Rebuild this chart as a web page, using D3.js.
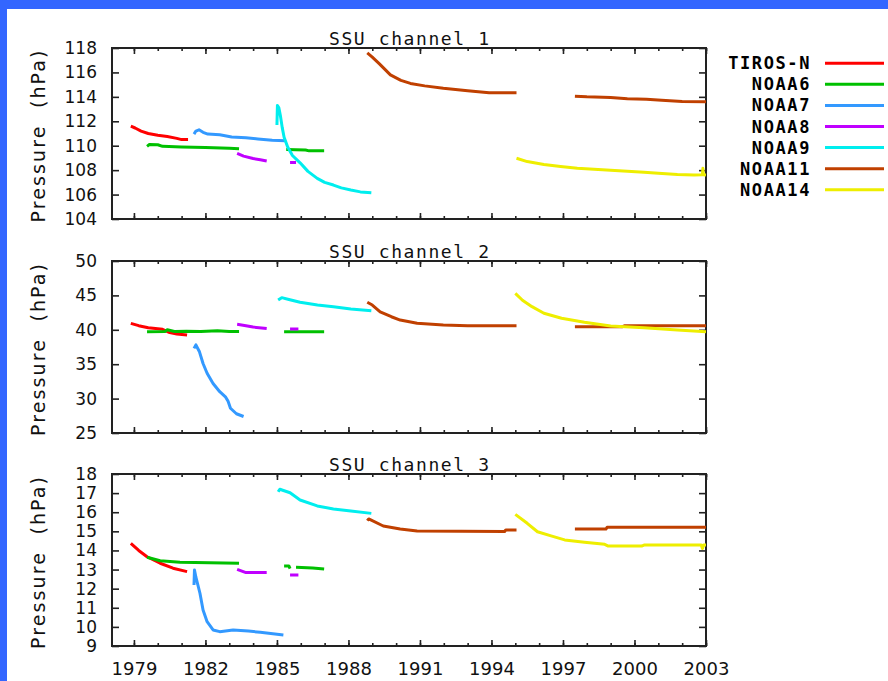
<!DOCTYPE html>
<html>
<head>
<meta charset="utf-8">
<script src="https://cdn.jsdelivr.net/npm/d3@7"></script>
<style>
  html, body { margin: 0; padding: 0; background: #fff; }
  svg { display: block; }
</style>
</head>
<body>
<svg id="chart" width="888" height="681"></svg>
<script>
// SSU weighting-function peak pressure by satellite, channels 1-3.
// Each series is a list of [year, hPa]; null breaks a line into segments.

const satellites = ["TIROS-N", "NOAA6", "NOAA7", "NOAA8", "NOAA9", "NOAA11", "NOAA14"];
const satColors  = ["#ff0000", "#00c000", "#3399ff", "#c000ff", "#00eeee", "#c04000", "#eeee00"];

const yearTicks = [1979, 1982, 1985, 1988, 1991, 1994, 1997, 2000, 2003];
const yearMinor = d3.range(1979, 2004);

// ---- channel 1 ----
const ch1Ticks = [104, 106, 108, 110, 112, 114, 116, 118];
const ch1_TIROSN = [[1978.87,111.6],[1979.05,111.45],[1979.3,111.2],[1979.6,111.0],[1980.0,110.85],[1980.4,110.75],[1980.8,110.6],[1981.0,110.5],[1981.27,110.5]];
const ch1_NOAA6  = [[1979.55,109.95],[1979.65,110.1],[1980.0,110.08],[1980.2,109.95],[1981.0,109.9],[1982.0,109.85],[1983.0,109.8],[1983.41,109.75], null,
                    [1985.39,109.7],[1986.2,109.65],[1986.35,109.58],[1986.98,109.58]];
const ch1_NOAA7  = [[1981.52,110.95],[1981.6,111.2],[1981.73,111.3],[1981.9,111.1],[1982.1,110.95],[1982.6,110.9],[1983.1,110.72],[1983.7,110.65],[1984.2,110.55],[1984.8,110.45],[1985.35,110.4]];
const ch1_NOAA8  = [[1983.33,109.37],[1983.6,109.15],[1984.0,108.95],[1984.3,108.85],[1984.57,108.75], null,
                    [1985.55,108.63],[1985.8,108.63]];
const ch1_NOAA9  = [[1985.0,111.7],[1985.02,113.3],[1985.08,113.1],[1985.15,112.4],[1985.22,111.5],[1985.3,110.7],[1985.45,109.9],[1985.65,109.2],[1985.97,108.6],
                    [1986.3,107.9],[1986.69,107.33],[1987.0,107.0],[1987.37,106.78],[1987.7,106.55],[1988.1,106.37],[1988.5,106.22],[1988.96,106.15]];
const ch1_NOAA11 = [[1988.79,117.6],[1989.0,117.25],[1989.3,116.7],[1989.76,115.8],[1990.2,115.35],[1990.6,115.1],[1991.2,114.9],[1991.98,114.7],[1993.0,114.5],[1993.9,114.33],[1995.05,114.33], null,
                    [1997.5,114.05],[1998.0,114.0],[1999.0,113.95],[1999.7,113.85],[2000.5,113.8],[2001.14,113.72],[2002.0,113.62],[2003.0,113.6]];
const ch1_NOAA14 = [[1995.05,108.97],[1995.5,108.7],[1996.2,108.47],[1996.9,108.3],[1997.6,108.15],[1999.0,108.0],[2000.4,107.82],[2001.0,107.75],[2001.8,107.65],
                    [2002.5,107.6],[2002.85,107.62],[2002.87,108.15],[2002.89,107.62],[2003.0,107.6]];

// ---- channel 2 ----
const ch2Ticks = [25, 30, 35, 40, 45, 50];
const ch2_TIROSN = [[1978.87,40.94],[1979.2,40.6],[1979.6,40.3],[1980.2,40.07],[1980.5,39.6],[1980.8,39.4],[1981.23,39.24]];
const ch2_NOAA6  = [[1979.55,39.73],[1980.3,39.75],[1980.4,40.0],[1980.7,39.75],[1981.2,39.8],[1981.8,39.75],[1982.5,39.85],[1983.0,39.75],[1983.41,39.75], null,
                    [1985.3,39.73],[1986.98,39.73]];
const ch2_NOAA7  = [[1981.52,37.3],[1981.6,37.8],[1981.75,36.8],[1981.9,35.1],[1982.07,33.68],[1982.32,32.2],[1982.6,31.0],[1982.85,30.2],[1982.95,29.6],[1983.05,28.6],[1983.3,27.8],[1983.6,27.4]];
const ch2_NOAA8  = [[1983.33,40.8],[1983.7,40.6],[1984.0,40.4],[1984.57,40.2], null,
                    [1985.55,40.1],[1985.9,40.1]];
const ch2_NOAA9  = [[1985.05,44.33],[1985.2,44.67],[1985.5,44.4],[1985.97,44.0],[1986.7,43.6],[1987.37,43.36],[1988.1,43.02],[1988.96,42.78]];
const ch2_NOAA11 = [[1988.79,44.0],[1989.0,43.6],[1989.33,42.6],[1989.8,41.9],[1990.17,41.42],[1990.88,40.94],[1991.98,40.7],[1993.0,40.6],[1995.05,40.6], null,
                    [1997.5,40.45],[1999.5,40.45],[1999.6,40.6],[2003.0,40.6]];
const ch2_NOAA14 = [[1995.0,45.3],[1995.3,44.3],[1995.7,43.36],[1996.2,42.4],[1996.94,41.67],[1997.9,41.09],[1999.0,40.55],[2000.4,40.3],[2001.8,39.97],[2003.0,39.73]];

// ---- channel 3 ----
const ch3Ticks = [9, 10, 11, 12, 13, 14, 15, 16, 17, 18];
const ch3_TIROSN = [[1978.87,14.37],[1979.2,14.0],[1979.55,13.67],[1980.1,13.33],[1980.64,13.07],[1981.23,12.89]];
const ch3_NOAA6  = [[1979.55,13.64],[1980.1,13.46],[1980.93,13.38],[1983.41,13.33], null,
                    [1985.3,13.19],[1985.5,13.19],[1985.55,13.05], null,
                    [1985.8,13.12],[1986.5,13.08],[1986.98,13.03]];
const ch3_NOAA7  = [[1981.52,12.19],[1981.54,12.98],[1981.6,12.6],[1981.77,11.76],[1981.9,10.88],[1982.07,10.27],[1982.32,9.84],[1982.6,9.75],[1983.16,9.84],[1983.8,9.78],[1984.3,9.72],[1985.27,9.58]];
const ch3_NOAA8  = [[1983.33,13.01],[1983.7,12.84],[1984.57,12.84], null,
                    [1985.55,12.72],[1985.9,12.72]];
const ch3_NOAA9  = [[1985.05,17.07],[1985.12,17.2],[1985.55,17.02],[1985.97,16.64],[1986.69,16.33],[1987.37,16.17],[1988.1,16.06],[1988.96,15.94]];
const ch3_NOAA11 = [[1988.79,15.56],[1988.85,15.65],[1989.46,15.28],[1990.17,15.12],[1990.88,15.02],[1994.55,14.99],[1994.6,15.07],[1995.05,15.07], null,
                    [1997.5,15.12],[1998.8,15.12],[1998.85,15.21],[2003.0,15.21]];
const ch3_NOAA14 = [[1995.0,15.89],[1995.5,15.42],[1995.93,14.98],[1996.5,14.76],[1997.07,14.55],[1997.9,14.43],[1998.75,14.32],[1998.9,14.23],[2000.3,14.23],[2000.4,14.28],
                    [2002.8,14.28],[2002.85,14.1],[2002.9,14.28],[2003.0,14.28]];

const panels = [
  { title: "SSU channel 1", ticks: ch1Ticks, top: 48,  bottom: 219,
    series: [ch1_TIROSN, ch1_NOAA6, ch1_NOAA7, ch1_NOAA8, ch1_NOAA9, ch1_NOAA11, ch1_NOAA14], xLabels: false },
  { title: "SSU channel 2", ticks: ch2Ticks, top: 261, bottom: 433,
    series: [ch2_TIROSN, ch2_NOAA6, ch2_NOAA7, ch2_NOAA8, ch2_NOAA9, ch2_NOAA11, ch2_NOAA14], xLabels: false },
  { title: "SSU channel 3", ticks: ch3Ticks, top: 474, bottom: 646,
    series: [ch3_TIROSN, ch3_NOAA6, ch3_NOAA7, ch3_NOAA8, ch3_NOAA9, ch3_NOAA11, ch3_NOAA14], xLabels: true }
];

const svg = d3.select("#chart");
const W = 888, H = 681;
const plotLeft = 112, plotRight = 706;
const frameColor = "#222";
const sansFont = "'DejaVu Sans', sans-serif";
const monoFont = "'DejaVu Sans Mono', monospace";

svg.append("rect").attr("width", W).attr("height", H).attr("fill", "#fff");
// blue window edge along top and left
svg.append("rect").attr("x", 0).attr("y", 0).attr("width", W).attr("height", 9).attr("fill", "#3366ff");
svg.append("rect").attr("x", 0).attr("y", 0).attr("width", 7).attr("height", H).attr("fill", "#3366ff");

const x = d3.scaleLinear().domain([1978.08, 2003.0]).range([plotLeft, plotRight]);

panels.forEach((p, pi) => {
  const y = d3.scaleLinear().domain([p.ticks[0], p.ticks[p.ticks.length - 1]]).range([p.bottom, p.top]);
  const g = svg.append("g");
  const clipId = "clip" + pi;
  svg.append("clipPath").attr("id", clipId)
    .append("rect").attr("x", plotLeft).attr("y", p.top - 2)
    .attr("width", plotRight - plotLeft + 2).attr("height", p.bottom - p.top + 4);

  // year ticks (minor every year, major every 3 years), mirrored top and bottom
  const styleAxis = sel => {
    sel.select(".domain").remove();
    sel.selectAll(".tick line").attr("stroke", frameColor).attr("stroke-width", 1.6);
  };
  g.append("g").attr("transform", `translate(0,${p.bottom})`)
    .call(d3.axisBottom(x).tickValues(yearMinor).tickSize(-3).tickFormat(""))
    .call(styleAxis);
  g.append("g").attr("transform", `translate(0,${p.top})`)
    .call(d3.axisTop(x).tickValues(yearMinor).tickSize(-3).tickFormat(""))
    .call(styleAxis);
  const xb = g.append("g").attr("transform", `translate(0,${p.bottom})`)
    .call(d3.axisBottom(x).tickValues(yearTicks).tickSize(-6).tickPadding(16)
      .tickFormat(p.xLabels ? d3.format("d") : ""))
    .call(styleAxis);
  xb.selectAll("text").attr("font-family", sansFont).attr("font-size", 18).attr("fill", "#111");
  g.append("g").attr("transform", `translate(0,${p.top})`)
    .call(d3.axisTop(x).tickValues(yearTicks).tickSize(-6).tickFormat(""))
    .call(styleAxis);

  // pressure ticks, labelled on the left and mirrored on the right
  const yl = g.append("g").attr("transform", `translate(${plotLeft},0)`)
    .call(d3.axisLeft(y).tickValues(p.ticks).tickSize(-7).tickPadding(15).tickFormat(d3.format("d")))
    .call(styleAxis);
  yl.selectAll("text").attr("font-family", sansFont).attr("font-size", 17).attr("fill", "#111");
  g.append("g").attr("transform", `translate(${plotRight},0)`)
    .call(d3.axisRight(y).tickValues(p.ticks).tickSize(-7).tickFormat(""))
    .call(styleAxis);

  // frame
  g.append("rect")
    .attr("x", plotLeft).attr("y", p.top)
    .attr("width", plotRight - plotLeft).attr("height", p.bottom - p.top)
    .attr("fill", "none").attr("stroke", frameColor).attr("stroke-width", 2);

  // title
  g.append("text")
    .attr("x", (plotLeft + plotRight) / 2).attr("y", p.top - 3)
    .attr("text-anchor", "middle")
    .attr("font-family", monoFont).attr("font-size", 18).attr("fill", "#111")
    .attr("textLength", 160).attr("lengthAdjust", "spacing")
    .text(p.title);

  // axis title
  const cy = (p.top + p.bottom) / 2 + 3;
  g.append("text")
    .attr("transform", `translate(45,${cy}) rotate(-90)`)
    .attr("text-anchor", "middle")
    .style("white-space", "pre")
    .attr("font-family", sansFont).attr("font-size", 19).attr("fill", "#111")
    .attr("textLength", 172).attr("lengthAdjust", "spacing")
    .text("Pressure  (hPa)");

  // data
  const line = d3.line()
    .defined(d => d !== null)
    .x(d => x(d[0]))
    .y(d => y(d[1]));
  const lines = g.append("g").attr("clip-path", `url(#${clipId})`);
  p.series.forEach((s, si) => {
    lines.append("path")
      .datum(s)
      .attr("d", line)
      .attr("fill", "none")
      .attr("stroke", satColors[si])
      .attr("stroke-width", 3)
      .attr("stroke-linejoin", "round");
  });
});

// legend
const legend = svg.append("g");
satellites.forEach((name, i) => {
  const ly = 63.3 + i * 21.07;
  legend.append("text")
    .attr("x", 811).attr("y", ly + 6)
    .attr("text-anchor", "end")
    .attr("font-family", monoFont).attr("font-size", 17).attr("font-weight", "bold")
    .attr("letter-spacing", 1.6).attr("fill", "#000")
    .text(name);
  legend.append("line")
    .attr("x1", 825).attr("x2", 884).attr("y1", ly).attr("y2", ly)
    .attr("stroke", satColors[i]).attr("stroke-width", 3);
});
</script>
</body>
</html>
